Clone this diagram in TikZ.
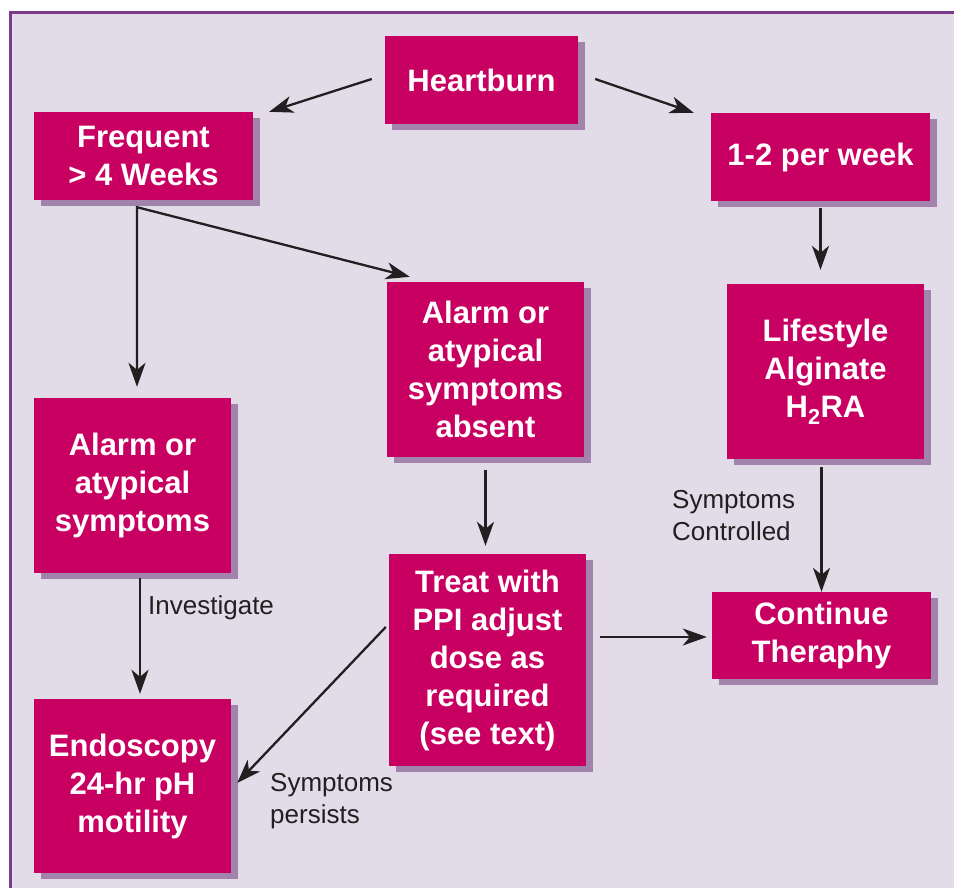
\documentclass[tikz,border=0pt]{standalone}
\usepackage{fontspec}
\setmainfont{Liberation Sans}
\usetikzlibrary{shadows,arrows.meta,calc}
\definecolor{boxmag}{RGB}{200,0,98}
\definecolor{boxshadow}{RGB}{162,131,171}
\definecolor{bglav}{RGB}{226,220,233}
\definecolor{frameline}{RGB}{123,58,138}
\definecolor{ink}{RGB}{35,31,32}
\begin{document}
\begin{tikzpicture}[x=1pt,y=-1pt,
  fbox/.style={fill=boxmag, text=white, align=center, inner sep=0pt,
    font=\fontsize{31}{38}\selectfont\bfseries,
    drop shadow={shadow xshift=7pt, shadow yshift=-6pt, fill=boxshadow, opacity=1}},
  conn/.style={draw=ink, line width=2.3pt, line join=miter,
    -{Stealth[length=24pt,width=17pt,inset=7pt]}},
  note/.style={text=ink, align=left, inner sep=0pt, font=\fontsize{26}{32}\selectfont}]
\useasboundingbox (0,0) rectangle (954,888);
\fill[white] (0,0) rectangle (954,888);
\fill[bglav] (10.5,12.5) rectangle (954,888);
\draw[frameline, line width=3pt] (10.5,888) -- (10.5,12.5) -- (954,12.5);

% boxes
\node[fbox, minimum width=193pt, minimum height=88pt] (heart) at (481.5,80) {Heartburn};
\node[fbox, minimum width=219pt, minimum height=88pt] (freq) at (143.5,156) {Frequent\\> 4 Weeks};
\node[fbox, minimum width=219pt, minimum height=88pt] (week) at (820.5,157) {1-2 per week};
\node[fbox, minimum width=197pt, minimum height=175pt] (absent) at (485.5,369.5) {Alarm or\\atypical\\symptoms\\absent};
\node[fbox, minimum width=197pt, minimum height=175pt] (life) at (825.5,371.5) {Lifestyle\\Alginate\\H\textsubscript{2}RA};
\node[fbox, minimum width=197pt, minimum height=175pt] (alarm) at (132.5,485.5) {Alarm or\\atypical\\symptoms};
\node[fbox, minimum width=197pt, minimum height=212pt] (treat) at (487.5,660) {Treat with\\PPI adjust\\dose as\\required\\(see text)};
\node[fbox, minimum width=219pt, minimum height=87pt] (cont) at (821.5,635.5) {Continue\\Theraphy};
\node[fbox, minimum width=197pt, minimum height=174pt] (endo) at (132.5,786) {Endoscopy\\24-hr pH\\motility};

% labels
\node[note, anchor=north west] (inv) at (148,595) {Investigate};
\node[note, anchor=north west] (persist) at (270,773) {Symptoms\\persists};
\node[note, anchor=north west] (ctrl) at (672,490) {Symptoms\\Controlled};

% connectors
\draw[conn] ($(heart.west)+(-13,-1)$) -- ($(freq.north east)+(16,0)$);
\draw[conn] ($(heart.east)+(17,-1)$) -- ($(week.north west)+(-17,0)$);
\coordinate (split) at ($(freq.south)+(-6.5,7)$);
\draw[ink, line width=2.3pt, line join=miter,
  {Stealth[length=24pt,width=17pt,inset=7pt]}-{Stealth[length=24pt,width=17pt,inset=7pt]}]
  ($(absent.north west)+(23,-5)$) -- (split) -- ($(split |- alarm.north)+(0,-11)$);
\draw[conn] ($(week.south)+(0,7)$) -- ($(week.south |- life.north)+(0,-14)$);
\draw[conn] ($(absent.south)+(0,13)$) -- ($(absent.south |- treat.north)+(0,-8)$);
\draw[conn] ($(cont.north |- life.south)+(0,8)$) -- (cont.north);
\draw[conn] ($(treat.east |- cont.west)+(14,1.5)$) -- ($(cont.west)+(-5,1.5)$);
\draw[conn] ($(alarm.south)+(7.5,5)$) -- ($(endo.north)+(7.5,-5)$);
\draw[conn] ($(treat.west)+(-3,-33)$) -- ($(endo.east)+(6,-3)$);
\end{tikzpicture}
\end{document}
